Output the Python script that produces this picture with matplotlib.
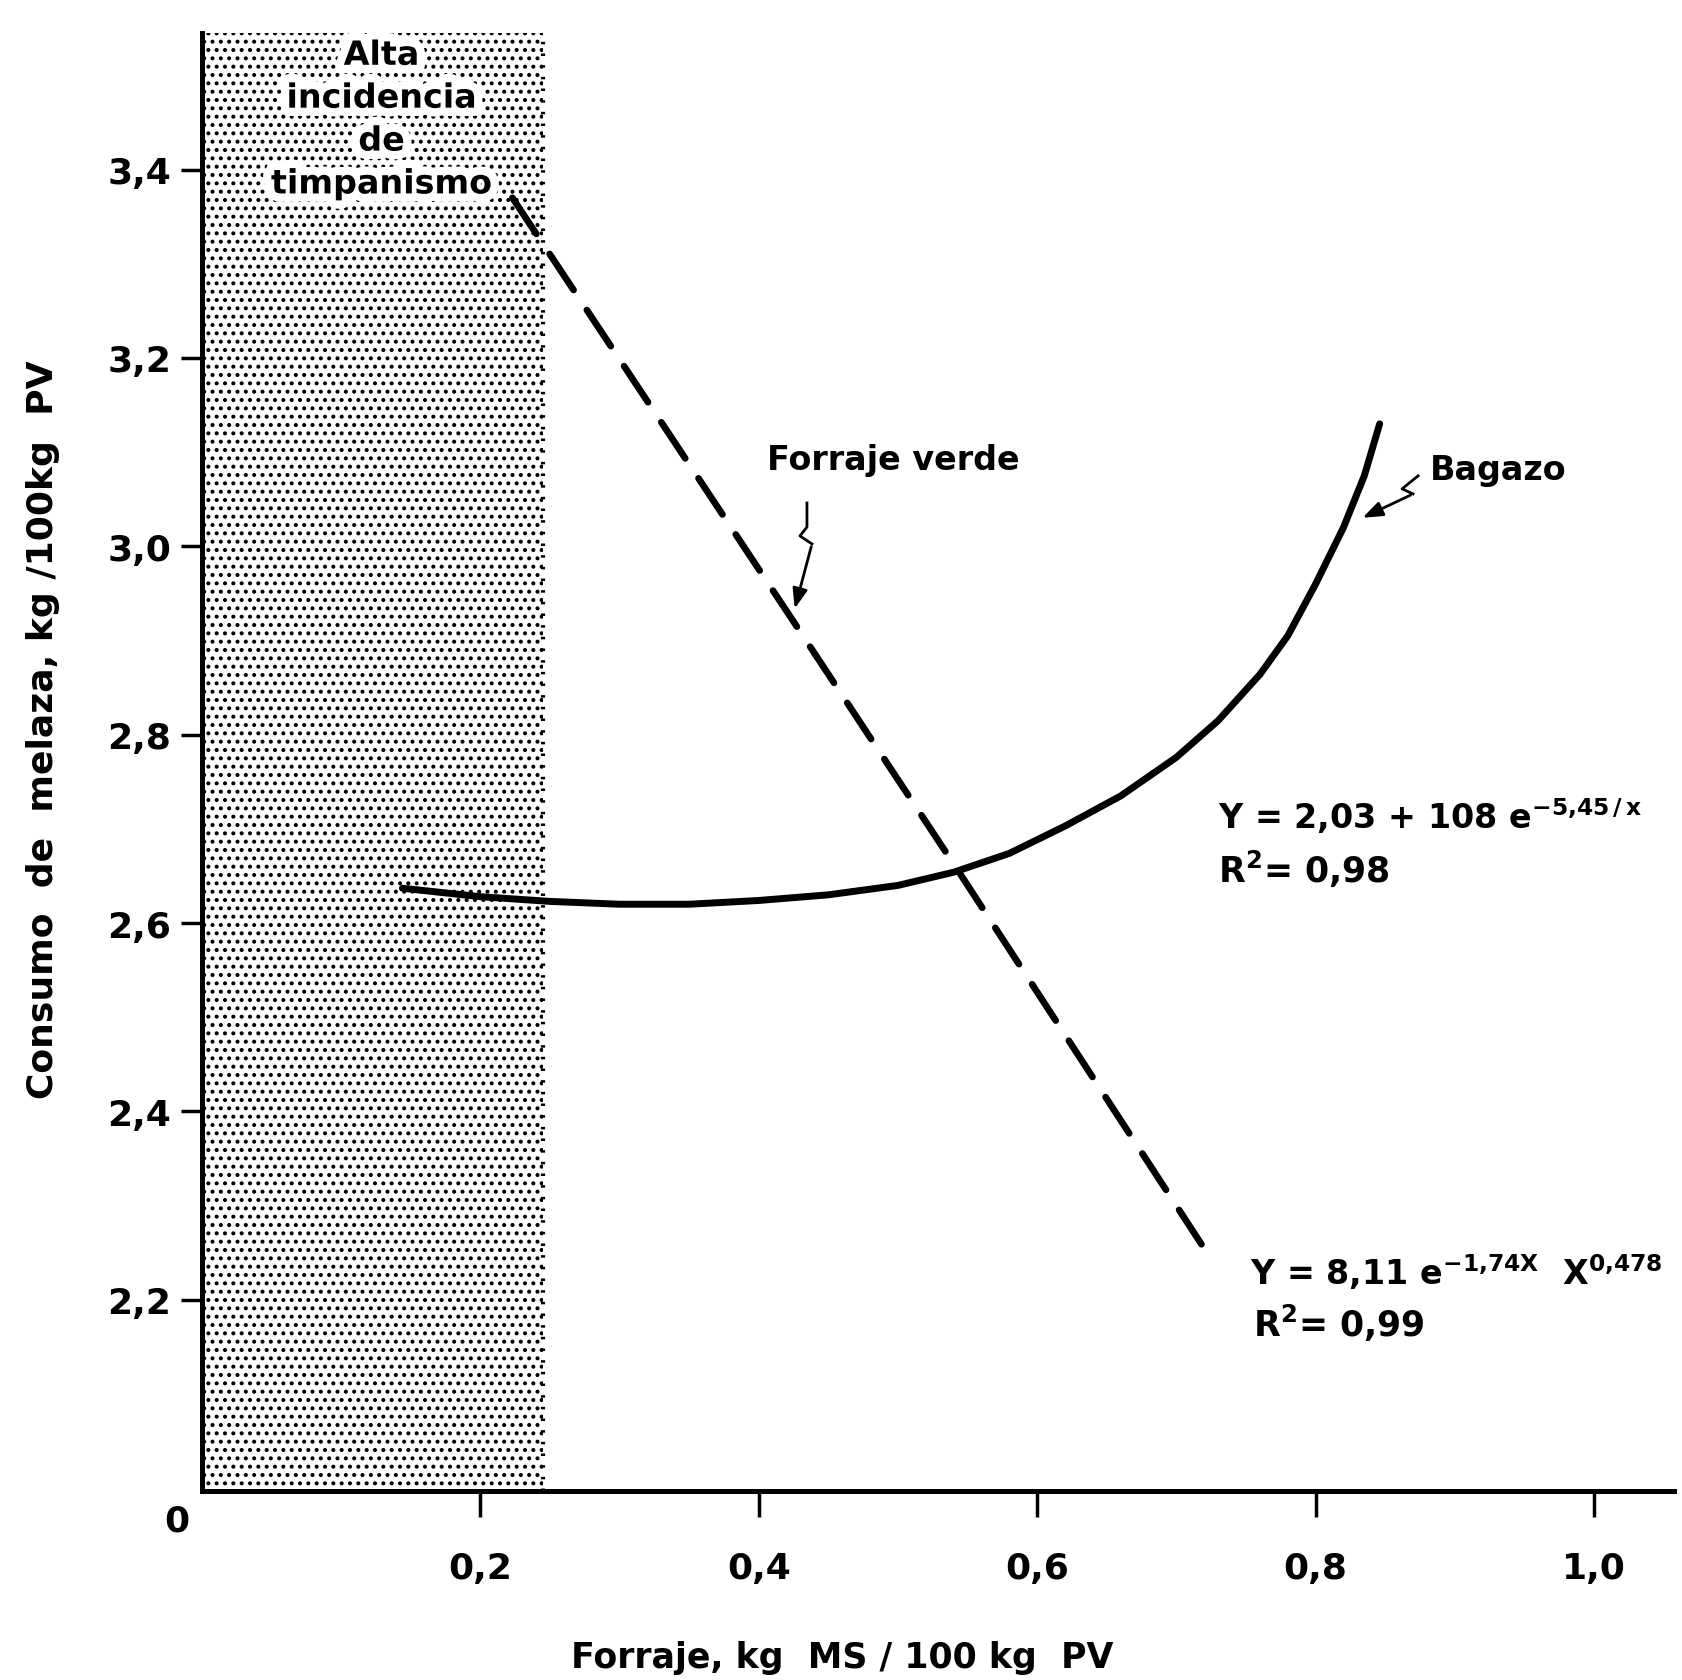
import matplotlib
matplotlib.use("Agg")
import matplotlib.pyplot as plt
import matplotlib.patheffects as pe

plt.rcParams['font.family'] = ['DejaVu Sans']
plt.rcParams['font.weight'] = 'bold'
plt.rcParams['mathtext.default'] = 'bf'
plt.rcParams['hatch.linewidth'] = 1.7

# curves
forraje_x = [0.223, 0.425, 0.543, 0.718]
forraje_y = [3.370, 2.920, 2.656, 2.259]

bagazo_x = [0.144, 0.20, 0.25, 0.30, 0.35, 0.40, 0.45, 0.50, 0.54, 0.58,
            0.62, 0.66, 0.70, 0.73, 0.76, 0.78, 0.80, 0.82, 0.835, 0.846]
bagazo_y = [2.637, 2.628, 2.623, 2.620, 2.620, 2.624, 2.630, 2.640, 2.654, 2.674,
            2.703, 2.735, 2.776, 2.815, 2.864, 2.905, 2.960, 3.020, 3.075, 3.130]

zona_x = 0.245  # limite de la zona de timpanismo

xticks = [0.2, 0.4, 0.6, 0.8, 1.0]
xlabels = ['0,2', '0,4', '0,6', '0,8', '1,0']
yticks = [2.2, 2.4, 2.6, 2.8, 3.0, 3.2, 3.4]
ylabels = ['2,2', '2,4', '2,6', '2,8', '3,0', '3,2', '3,4']

fig = plt.figure(figsize=(16.83, 16.81), dpi=100)
ax = fig.add_axes([0.120, 0.1124, 0.8747, 0.8674])

ax.axvspan(0, zona_x, facecolor='white', edgecolor='black', hatch='..', lw=0)
ax.axvline(zona_x, color='black', ls=(0, (0.6, 2.2)), lw=3)

ax.plot(bagazo_x, bagazo_y, color='black', lw=5, solid_capstyle='round',
        solid_joinstyle='round')
ax.plot(forraje_x, forraje_y, color='black', lw=4.8, dashes=(6.5, 3.6),
        dash_capstyle='round')

ax.set_xlim(0, 1.0575)
ax.set_ylim(1.997, 3.545)
for s in ['top', 'right']:
    ax.spines[s].set_visible(False)
for s in ['left', 'bottom']:
    ax.spines[s].set_linewidth(3.6)

ax.set_xticks(xticks)
ax.set_xticklabels(xlabels)
ax.set_yticks(yticks)
ax.set_yticklabels(ylabels)
ax.tick_params(axis='x', direction='out', length=19, width=2.5, pad=24, labelsize=26)
ax.tick_params(axis='y', direction='out', length=15, width=2.5, pad=7, labelsize=26)

ax.annotate('0', xy=(0, 1.997), xytext=(-18, -21), textcoords='offset points',
            ha='center', va='center', fontsize=26, fontweight='bold')

ax.text(0.129, 3.453, 'Alta\nincidencia\nde\ntimpanismo', ha='center', va='center',
        fontsize=24, fontweight='bold', linespacing=1.38,
        path_effects=[pe.withStroke(linewidth=12, foreground='white')])

ax.text(0.406, 3.092, 'Forraje verde', ha='left', va='center', fontsize=24,
        fontweight='bold')
ax.plot([0.4346, 0.4346, 0.4296, 0.4382], [3.046, 3.0205, 3.011, 3.0025],
        color='black', lw=2)
ax.annotate('', xy=(0.4253, 2.931), xytext=(0.4382, 3.0025),
            arrowprops=dict(arrowstyle='-|>,head_length=1.2,head_width=0.45',
                            color='black', lw=2))

ax.text(0.882, 3.082, 'Bagazo', ha='left', va='center', fontsize=24,
        fontweight='bold')
ax.plot([0.8736, 0.8621, 0.8700], [3.0748, 3.061, 3.0556], color='black', lw=2)
ax.annotate('', xy=(0.8319, 3.029), xytext=(0.8700, 3.0556),
            arrowprops=dict(arrowstyle='-|>,head_length=1.2,head_width=0.45',
                            color='black', lw=2))

ax.text(0.730, 2.715, 'Y = 2,03 + 108 e$^{-5{,}45\\,/\\,x}$', ha='left', va='center',
        fontsize=24, fontweight='bold')
ax.text(0.730, 2.658, 'R$^2$= 0,98', ha='left', va='center', fontsize=25,
        fontweight='bold')
ax.text(0.753, 2.230, 'Y = 8,11 e$^{-1{,}74X}$  X$^{0{,}478}$', ha='left', va='center',
        fontsize=24, fontweight='bold')
ax.text(0.755, 2.176, 'R$^2$= 0,99', ha='left', va='center', fontsize=25,
        fontweight='bold')

fig.text(43 / 1683, 1 - 730 / 1681, 'Consumo  de  melaza, kg /100kg  PV',
         rotation=90, ha='center', va='center', fontsize=26, fontweight='bold')
fig.text(842 / 1683, 1 - 1658 / 1681, 'Forraje, kg  MS / 100 kg  PV',
         ha='center', va='center', fontsize=25, fontweight='bold')

fig.savefig('out.png', dpi=100)
